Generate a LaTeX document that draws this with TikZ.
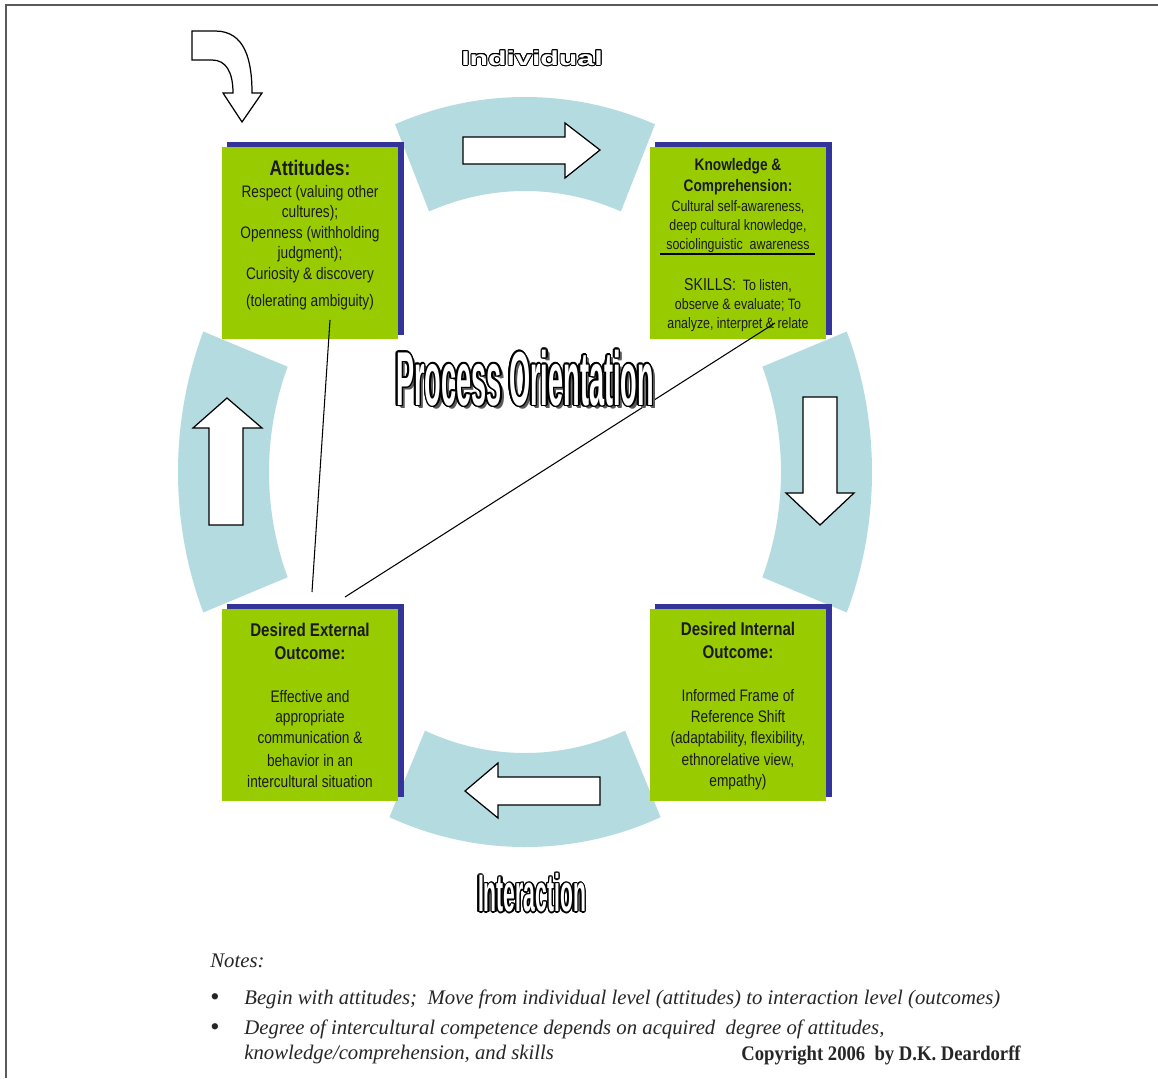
\documentclass[tikz,border=0pt]{standalone}
\usepackage{fontspec}
\setmainfont{Liberation Serif}
\newfontfamily\boxfont[FakeStretch=0.82]{Liberation Sans}
\newfontfamily\procfont[FakeStretch=0.355]{Liberation Sans}
\newfontfamily\interfont[FakeStretch=0.40]{Liberation Sans}
\newfontfamily\indivfont[FakeStretch=1.5]{Liberation Sans}
\newfontfamily\copyfont[FakeStretch=0.9]{Liberation Serif}
\usetikzlibrary{shadows}
\definecolor{boxgreen}{HTML}{99CC00}
\definecolor{boxshadow}{HTML}{333399}
\definecolor{bandblue}{HTML}{B4DCE0}
\definecolor{textdark}{HTML}{1A1A1A}
\definecolor{framegray}{HTML}{5A5A5A}
\newcommand\indivtext{\indivfont\bfseries\fontsize{11.5}{11.5}\selectfont Individual}
\newcommand\proctext{\procfont\bfseries\fontsize{43.5}{44}\selectfont Process Orientation}
\newcommand\intertext{\interfont\bfseries\fontsize{30}{30}\selectfont Interaction}
\begin{document}
\begin{tikzpicture}[x=0.02cm,y=-0.02cm,
  band/.style={fill=bandblue},
  blockarrow/.style={fill=white,draw=black,line width=0.7pt,line join=miter},
  greenbox/.style={fill=boxgreen,minimum width=3.54cm,minimum height=3.86cm,inner sep=0pt,
    general shadow={fill=boxshadow,shadow xshift=3.1pt,shadow yshift=2.5pt}},
  boxtext/.style={text=textdark,align=center,inner sep=0pt},
  bodyA/.style={boxtext,font=\boxfont\fontsize{9.5}{11.7}\selectfont},
  bodyK/.style={boxtext,font=\boxfont\fontsize{8.6}{10.8}\selectfont},
  bodyD/.style={boxtext,font=\boxfont\fontsize{9.5}{11.9}\selectfont},
  connector/.style={draw=black,line width=0.6pt},
  outl/.style={inner sep=0pt,text=black},
  shad/.style={inner sep=0pt,text=black!65},
  fillt/.style={inner sep=0pt,text=white},
  notetext/.style={font=\fontsize{11.8}{13}\selectfont,inner sep=0pt,anchor=base west,text=black!85},
  bullet/.style={font=\fontsize{15}{15}\selectfont,inner sep=0pt,anchor=base west,text=black!85}
]
\useasboundingbox (0,0) rectangle (1158,1078);
\fill[white] (0,0) rectangle (1158,1078);
\draw[framegray,line width=1.1pt] (6,1078) -- (6,5) -- (1158,5);

% bands
\begin{scope}[shift={(525,472)}]
  \fill[band] (248:347 and 375) arc[start angle=248,end angle=292,x radius=347,y radius=375]
     -- (292:256 and 281) arc[start angle=292,end angle=248,x radius=256,y radius=281] -- cycle;
  \fill[band] (67:347 and 375) arc[start angle=67,end angle=113,x radius=347,y radius=375]
     -- (113:256 and 281) arc[start angle=113,end angle=67,x radius=256,y radius=281] -- cycle;
  \fill[band] (158:347 and 375) arc[start angle=158,end angle=202,x radius=347,y radius=375]
     -- (202:256 and 281) arc[start angle=202,end angle=158,x radius=256,y radius=281] -- cycle;
  \fill[band] (-22:347 and 375) arc[start angle=-22,end angle=22,x radius=347,y radius=375]
     -- (22:256 and 281) arc[start angle=22,end angle=-22,x radius=256,y radius=281] -- cycle;
\end{scope}

% block arrows
\draw[blockarrow] (463,137) -- (565,137) -- (565,123) -- (600,150) -- (565,178) -- (565,164) -- (463,164) -- cycle;
\draw[blockarrow] (600,777) -- (498,777) -- (498,763) -- (465,791) -- (498,818) -- (498,805) -- (600,805) -- cycle;
\draw[blockarrow] (209,525) -- (209,428) -- (193,428) -- (227,398) -- (262,428) -- (243,428) -- (243,525) -- cycle;
\draw[blockarrow] (803,397) -- (803,493) -- (786,493) -- (820,525) -- (854,493) -- (837,493) -- (837,397) -- cycle;
\draw[blockarrow] (192,31) -- (215,31) .. controls (245,31) and (252,60) .. (252,93) -- (262,93) -- (242,122)
   -- (223,93) -- (233,93) .. controls (233,72) and (226,60) .. (212,60) -- (192,60) -- cycle;

% boxes
\node[greenbox] (att) at (310,243) {};
\node[greenbox] (know) at (738,243) {};
\node[greenbox] (ext) at (310,705) {};
\node[greenbox] (int) at (738,705) {};

\node[bodyA] (atttext) at (310,235) {%
  {\fontsize{12}{12}\selectfont\bfseries Attitudes:}\\[0.6pt]
  Respect (valuing other\\ cultures);\\ Openness (withholding\\ judgment);\\
  Curiosity \& discovery\\[3.5pt] (tolerating ambiguity)};
\node[bodyK] (knowtext) at (738,245) {%
  {\fontsize{9.5}{10}\selectfont\bfseries Knowledge \&}\\[1pt]
  {\fontsize{9.5}{10}\selectfont\bfseries Comprehension:}\\[0.5pt]
  Cultural self-awareness,\\ deep cultural knowledge,\\ sociolinguistic\ \ awareness\\[12.5pt]
  {\fontsize{9.8}{10}\selectfont SKILLS:}\ \ To listen,\\ observe \& evaluate; To\\ analyze, interpret \& relate};
\node[bodyD] (exttext) at (310,705) {%
  {\fontsize{10.5}{11}\selectfont\bfseries Desired External}\\[1.2pt]
  {\fontsize{10.5}{11}\selectfont\bfseries Outcome:}\\[12.5pt]
  Effective and\\ appropriate\\ communication \&\\[0.8pt] behavior in an\\ intercultural situation};
\node[bodyD] (inttext) at (738,706) {%
  {\fontsize{10.5}{11}\selectfont\bfseries Desired Internal}\\[1.2pt]
  {\fontsize{10.5}{11}\selectfont\bfseries Outcome:}\\[12.5pt]
  Informed Frame of\\ Reference Shift\\ (adaptability, flexibility,\\[0.8pt] ethnorelative view,\\ empathy)};
\coordinate (rulea) at (660,254);
\coordinate (ruleb) at (815,254);
\draw[line width=0.8pt] (rulea) -- (ruleb);

% connectors
\coordinate (l1a) at (330,320);
\coordinate (l1b) at (312,592);
\coordinate (l2a) at (775,323);
\coordinate (l2b) at (345,597);
\draw[connector] (l1a) -- (l1b);
\draw[connector] (l2a) -- (l2b);

% outlined titles
\foreach \a in {0,22.5,...,337.5}
  \node[outl,shift={(\a:0.55pt)}] at (532,58) {\indivtext};
\node[fillt] (indiv) at (532,58) {\indivtext};

\foreach \k in {1,...,6}
  \node[shad,shift={(\k*0.33pt,-\k*0.3pt)}] at (525,378) {\proctext};
\foreach \a in {0,22.5,...,337.5}
  \node[outl,shift={(\a:0.9pt)}] at (525,378) {\proctext};
\node[fillt] (proc) at (525,378) {\proctext};

\foreach \a in {0,22.5,...,337.5}
  \node[outl,shift={(\a:0.7pt)}] at (532,893) {\intertext};
\node[fillt] (inter) at (532,893) {\intertext};

% notes
\node[notetext] (notes) at (210,967) {\itshape Notes:};
\node[bullet] (bul1) at (210,1005) {\textbullet};
\node[notetext] (item1) at (244,1004) {\itshape Begin with attitudes;\ \ Move from individual level (attitudes) to interaction level (outcomes)};
\node[bullet] (bul2) at (210,1035) {\textbullet};
\node[notetext] (item2a) at (244,1034) {\itshape Degree of intercultural competence depends on acquired\ \ degree of attitudes,};
\node[notetext] (item2b) at (244,1059) {\itshape knowledge/comprehension, and skills};
\node[notetext] (copy) at (741,1060) {\copyfont\bfseries Copyright 2006\ \ by D.K. Deardorff};
\end{tikzpicture}
\end{document}
